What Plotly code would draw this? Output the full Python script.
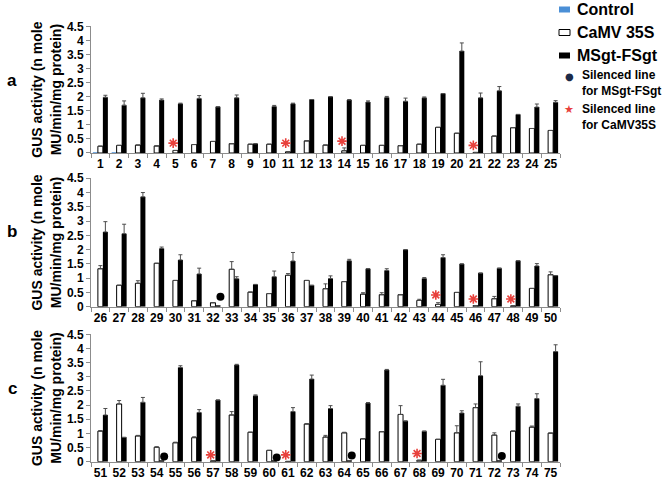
import numpy as np
import plotly.graph_objects as go

# ---------------- data ----------------
labels_a = [str(i) for i in range(1, 26)]
labels_b = [str(i) for i in range(26, 51)]
labels_c = [str(i) for i in range(51, 76)]

control_a = [0.02, 0.02, 0, 0, 0, 0, 0, 0, 0, 0, 0, 0, 0, 0, 0, 0, 0, 0, 0, 0, 0, 0, 0, 0, 0]
camv_a = [0.24, 0.27, 0.28, 0.25, 0.09, 0.30, 0.41, 0.33, 0.31, 0.31, 0.04, 0.43, 0.28,
          0.08, 0.27, 0.27, 0.26, 0.31, 0.91, 0.70, 0.02, 0.60, 0.90, 0.87, 0.80]
camv_a_err = [0, 0, 0, 0, 0, 0, 0, 0, 0, 0, 0, 0, 0, 0.10, 0, 0, 0, 0, 0, 0, 0, 0, 0, 0, 0]
msgt_a = [1.98, 1.70, 1.96, 1.88, 1.75, 1.94, 1.64, 1.96, 0.33, 1.65, 1.75, 1.90, 2.00,
          1.88, 1.81, 1.97, 1.84, 1.96, 2.11, 3.62, 1.96, 2.21, 1.37, 1.63, 1.80]
msgt_a_err = [0.07, 0.15, 0.16, 0.04, 0.02, 0.10, 0, 0.10, 0, 0.04, 0.02, 0, 0,
              0.02, 0.04, 0.04, 0.11, 0.03, 0, 0.29, 0.17, 0.15, 0, 0.11, 0.06]

control_b = [0, 0, 0, 0, 0, 0, 0, 0, 0, 0, 0, 0, 0, 0, 0, 0, 0, 0, 0, 0, 0, 0, 0, 0, 0]
camv_b = [1.33, 0.75, 0.82, 1.52, 0.92, 0.21, 0.14, 1.31, 0.51, 0.46, 1.10, 0.92, 0.63,
          0.88, 0.44, 0.42, 0.42, 0.22, 0.08, 0.50, 0.04, 0.28, 0.03, 0.64, 1.12]
camv_b_err = [0.11, 0, 0.09, 0, 0, 0, 0, 0.27, 0, 0, 0.06, 0, 0.17,
              0, 0.05, 0.07, 0, 0.04, 0.06, 0, 0, 0.08, 0, 0, 0.10]
msgt_b = [2.62, 2.56, 3.85, 2.04, 1.64, 1.15, 0.04, 0.98, 0.78, 1.05, 1.60, 0.75, 0.99,
          1.61, 1.33, 1.27, 2.00, 0.99, 1.72, 1.50, 1.18, 1.35, 1.61, 1.43, 1.09]
msgt_b_err = [0.36, 0.33, 0.15, 0.05, 0.18, 0.20, 0, 0.07, 0, 0.20, 0.30, 0, 0.09,
              0.05, 0, 0.06, 0, 0.03, 0.10, 0, 0, 0, 0, 0.08, 0]

control_c = [0, 0, 0, 0, 0, 0, 0, 0, 0, 0, 0, 0, 0, 0, 0, 0, 0, 0, 0, 0, 0, 0, 0, 0, 0]
camv_c = [1.08, 2.04, 0.91, 0.51, 0.67, 0.85, 0.03, 1.65, 1.04, 0.40, 0.01, 1.33, 0.87,
          1.02, 0.81, 1.06, 1.67, 0.05, 0.79, 1.02, 1.91, 0.94, 1.08, 1.22, 1.01]
camv_c_err = [0.02, 0.12, 0.02, 0.02, 0.02, 0.03, 0, 0.12, 0, 0, 0, 0.02, 0.06,
              0.02, 0, 0, 0.31, 0, 0, 0.25, 0.13, 0.08, 0, 0.04, 0]
msgt_c = [1.65, 0.86, 2.10, 0.02, 3.33, 1.74, 2.18, 3.42, 2.33, 0.02, 1.77, 2.92, 1.88,
          0.03, 2.07, 3.24, 1.44, 1.08, 2.70, 1.72, 3.04, 0.02, 1.96, 2.23, 3.89]
msgt_c_err = [0.23, 0, 0.17, 0, 0.06, 0.10, 0, 0.02, 0.03, 0, 0.14, 0.14, 0.10,
              0, 0.02, 0.02, 0, 0, 0.21, 0.08, 0.49, 0, 0.08, 0.17, 0.24]

# silenced-line markers (group label, height of marker)
star_groups_a = ["5", "11", "14", "21"]
star_heights_a = [0.35, 0.35, 0.42, 0.27]
star_groups_b = ["44", "46", "48"]
star_heights_b = [0.41, 0.27, 0.27]
star_groups_c = ["57", "61", "68"]
star_heights_c = [0.24, 0.24, 0.29]
dot_groups_a = []
dot_heights_a = []
dot_groups_b = ["32"]
dot_heights_b = [0.35]
dot_groups_c = ["54", "60", "64", "72"]
dot_heights_c = [0.18, 0.15, 0.22, 0.20]

panel_letters = ["a", "b", "c"]
y_title = "GUS activity (n mole<br>MU/min/mg protein)"
series_names = ["Control", "CaMV 35S", "MSgt-FSgt"]
silenced_msgt_text = "Silenced line<br>for MSgt-FSgt"
silenced_camv_text = "Silenced line<br>for CaMV35S"

# ---------------- style ----------------
FONT = "Liberation Sans, Arial, sans-serif"
BLUE = "#4a8fd6"
RED = "#e8413c"
NAVY = "#1c2a48"
AXIS_GRAY = "#8c8c8c"
ERR_GRAY = "#4d4d4d"
STAR_OFFSET = -0.12
DOT_OFFSET = 0.40
W, H = 662, 482
ML, MR = 91, 102
PW = W - ML - MR
y_domains = [[0.6826, 0.9454], [0.3637, 0.6301], [0.0421, 0.3064]]
letter_y = [0.834, 0.519, 0.195]


def px_x(px):
    return (px - ML) / PW


def px_y(py):
    return 1 - py / H


panels = [
    (labels_a, control_a, camv_a, camv_a_err, msgt_a, msgt_a_err,
     star_groups_a, star_heights_a, dot_groups_a, dot_heights_a),
    (labels_b, control_b, camv_b, camv_b_err, msgt_b, msgt_b_err,
     star_groups_b, star_heights_b, dot_groups_b, dot_heights_b),
    (labels_c, control_c, camv_c, camv_c_err, msgt_c, msgt_c_err,
     star_groups_c, star_heights_c, dot_groups_c, dot_heights_c),
]

fig = go.Figure()


def err(arr):
    return dict(type="data", array=arr, symmetric=False, color=ERR_GRAY,
                thickness=1, width=2)


for p, (labels, ctrl, camv, camv_err, msgt, msgt_err,
        sg, sh, dg, dh) in enumerate(panels):
    xa = "x" if p == 0 else f"x{p + 1}"
    ya = "y" if p == 0 else f"y{p + 1}"
    idx = np.arange(len(labels))
    fig.add_trace(go.Bar(x=idx, y=ctrl, name=series_names[0],
                         marker=dict(color=BLUE, line=dict(width=0)),
                         xaxis=xa, yaxis=ya, hoverinfo="skip"))
    fig.add_trace(go.Bar(x=idx, y=camv, name=series_names[1],
                         marker=dict(color="white", line=dict(color="black", width=1)),
                         error_y=err(camv_err), xaxis=xa, yaxis=ya, hoverinfo="skip"))
    fig.add_trace(go.Bar(x=idx, y=msgt, name=series_names[2],
                         marker=dict(color="black", line=dict(color="black", width=0)),
                         error_y=err(msgt_err), xaxis=xa, yaxis=ya, hoverinfo="skip"))
    if sg:
        fig.add_trace(go.Scatter(x=[labels.index(g) + STAR_OFFSET for g in sg], y=sh,
                                 mode="markers", name="Silenced line for CaMV35S",
                                 marker=dict(symbol="asterisk-open", size=8, color=RED,
                                             line=dict(color=RED, width=1.6)),
                                 xaxis=xa, yaxis=ya, hoverinfo="skip"))
    if dg:
        fig.add_trace(go.Scatter(x=[labels.index(g) + DOT_OFFSET for g in dg], y=dh,
                                 mode="markers", name="Silenced line for MSgt-FSgt",
                                 marker=dict(symbol="circle", size=8, color="black"),
                                 xaxis=xa, yaxis=ya, hoverinfo="skip"))

annotations = []
shapes = []
for p in range(3):
    annotations.append(dict(text=panel_letters[p], xref="paper", yref="paper",
                            x=-0.168, y=letter_y[p], showarrow=False,
                            xanchor="center", yanchor="middle",
                            font=dict(family=FONT, size=17, weight="bold")))

# ---- key (legend) drawn at the top right ----
key_rows = [
    (series_names[0], BLUE, BLUE, 0, 9.5),
    (series_names[1], "white", "black", 1, 32.5),
    (series_names[2], "black", "black", 0, 55.5),
]
for name, fill, line_c, lw, cy in key_rows:
    shapes.append(dict(type="rect", xref="paper", yref="paper",
                       x0=px_x(559), x1=px_x(570), y0=px_y(cy + 3), y1=px_y(cy - 3),
                       fillcolor=fill, line=dict(color=line_c, width=lw)))
    annotations.append(dict(text=name, xref="paper", yref="paper", x=px_x(575), y=px_y(cy),
                            showarrow=False, xanchor="left", yanchor="middle",
                            font=dict(family=FONT, size=16, weight="bold")))

annotations += [
    dict(text="●", xref="paper", yref="paper", x=px_x(569), y=px_y(76), showarrow=False,
         xanchor="center", yanchor="middle", font=dict(family="DejaVu Sans", size=10, color=NAVY)),
    dict(text=silenced_msgt_text, xref="paper", yref="paper", x=px_x(580), y=px_y(82.5),
         showarrow=False, xanchor="left", yanchor="middle", align="left",
         font=dict(family=FONT, size=12, weight="bold")),
    dict(text="★", xref="paper", yref="paper", x=px_x(569), y=px_y(110), showarrow=False,
         xanchor="center", yanchor="middle", font=dict(family="DejaVu Sans", size=11, color=RED)),
    dict(text=silenced_camv_text, xref="paper", yref="paper", x=px_x(580), y=px_y(116.5),
         showarrow=False, xanchor="left", yanchor="middle", align="left",
         font=dict(family=FONT, size=12, weight="bold")),
]

layout = dict(
    width=W, height=H,
    margin=dict(l=ML, r=MR, t=0, b=0, pad=0, autoexpand=False),
    paper_bgcolor="white", plot_bgcolor="white",
    barmode="group", bargap=0.2, bargroupgap=0,
    font=dict(family=FONT, color="black"),
    showlegend=False,
    annotations=annotations,
    shapes=shapes,
)

for p in range(3):
    labels = panels[p][0]
    idx = np.arange(len(labels))
    xk = "xaxis" if p == 0 else f"xaxis{p + 1}"
    yk = "yaxis" if p == 0 else f"yaxis{p + 1}"
    ya = "y" if p == 0 else f"y{p + 1}"
    xa = "x" if p == 0 else f"x{p + 1}"
    layout[xk] = dict(domain=[0, 1], anchor=ya, range=[-0.5, len(labels) - 0.5],
                      tickmode="array", tickvals=idx, ticktext=labels, ticks="",
                      showline=True, linecolor=AXIS_GRAY, linewidth=1, showgrid=False,
                      zeroline=False, fixedrange=True, automargin=False,
                      tickfont=dict(family=FONT, size=12, weight="bold", color="black"),
                      minor=dict(tickmode="array", tickvals=np.arange(len(labels) + 1) - 0.5,
                                 ticks="outside", ticklen=4, tickcolor=AXIS_GRAY, showgrid=False))
    layout[yk] = dict(domain=y_domains[p], anchor=xa, range=[0, 4.5], tickmode="linear",
                      tick0=0, dtick=0.5, ticks="outside", ticklen=4, tickcolor=AXIS_GRAY,
                      showline=True, linecolor=AXIS_GRAY, linewidth=1, showgrid=False,
                      zeroline=False, fixedrange=True, automargin=False,
                      tickfont=dict(family=FONT, size=12, weight="bold", color="black"),
                      title=dict(text=y_title, standoff=2,
                                 font=dict(family=FONT, size=14, weight="bold")))

fig.update_layout(**layout)
fig.write_html("out.html", config={"displayModeBar": False},
               post_script="document.body.style.margin='0px';document.body.style.overflow='hidden';")
